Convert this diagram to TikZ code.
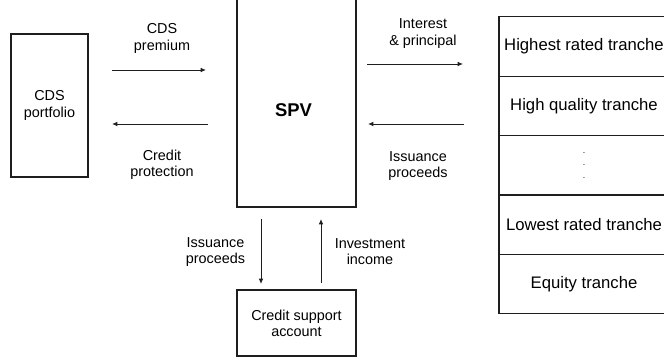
\documentclass[tikz,border=0pt]{standalone}
\usepackage{fontspec}
\setmainfont{Liberation Sans}
\usetikzlibrary{arrows.meta,positioning}
\definecolor{linecolor}{RGB}{30,30,30}
\newcommand{\lblfont}{\fontsize{8.2}{9.2}\selectfont}
\newcommand{\trfont}{\fontsize{9.5}{11}\selectfont}

\begin{document}
\begin{tikzpicture}[
    box/.style={draw=linecolor, line width=0.6pt, align=center, font=\lblfont, inner sep=0pt},
    tranche/.style={draw=linecolor, line width=0.6pt, align=center, minimum width=3.4cm,
      minimum height=1.188cm, inner sep=0pt, outer sep=0pt, font=\trfont},
    flow/.style={-{Latex[length=3pt,width=2.6pt]}, line width=0.55pt, linecolor},
    lbl/.style={align=center, font=\lblfont}]
    \useasboundingbox (0,0) rectangle (13.28,7.2);
    % parties
    \node[box, minimum width=1.54cm, minimum height=2.86cm] (port) at (0.99,5.09) {CDS\\portfolio};
    \node[box, minimum width=2.38cm, minimum height=4.4cm] (spv) at (5.93,5.26) {};
    \node[font=\bfseries\fontsize{10.5}{12}\selectfont] (spvname) at (5.87,5.0) {SPV};
    \node[box, minimum width=2.38cm, minimum height=1.32cm] (csa) at (5.93,0.74) {Credit support\\account};
    % tranches
    \node[tranche] (tr1) at (11.68,6.27) {Highest rated tranche};
    \node[tranche, below=0pt of tr1] (tr2) {High quality tranche};
    \node[tranche, below=0pt of tr2, font=\fontsize{5}{7.1}\selectfont] (tr3) {.\\.\\.};
    \node[tranche, below=0pt of tr3] (tr4) {Lowest rated tranche};
    \node[tranche, below=0pt of tr4] (tr5) {Equity tranche};
    % arrow ends
    \coordinate (premA) at (2.24,5.8);   \coordinate (premB) at (4.12,5.8);
    \coordinate (protA) at (4.16,4.72);  \coordinate (protB) at (2.24,4.72);
    \coordinate (intA) at (7.34,5.92);   \coordinate (intB) at (9.26,5.92);
    \coordinate (issA) at (9.28,4.72);   \coordinate (issB) at (7.36,4.72);
    \coordinate (downA) at (5.22,2.82);  \coordinate (downB) at (5.22,1.52);
    \coordinate (upA) at (6.42,1.54);    \coordinate (upB) at (6.42,2.82);
    \foreach \a/\b in {premA/premB, protA/protB, intA/intB, issA/issB, downA/downB, upA/upB}{
      \draw[flow] (\a) -- (\b);
    }
    % flow labels
    \node[lbl] (premlbl) at (3.24,6.43) {CDS\\premium};
    \node[lbl] (protlbl) at (3.24,3.9) {Credit\\protection};
    \node[lbl] (intlbl) at (8.46,6.53) {Interest\\\& principal};
    \node[lbl] (isslbl) at (8.36,3.88) {Issuance\\proceeds};
    \node[lbl] (csalbl) at (4.31,2.16) {Issuance\\proceeds};
    \node[lbl] (invlbl) at (7.4,2.16) {Investment\\income};
\end{tikzpicture}
\end{document}
